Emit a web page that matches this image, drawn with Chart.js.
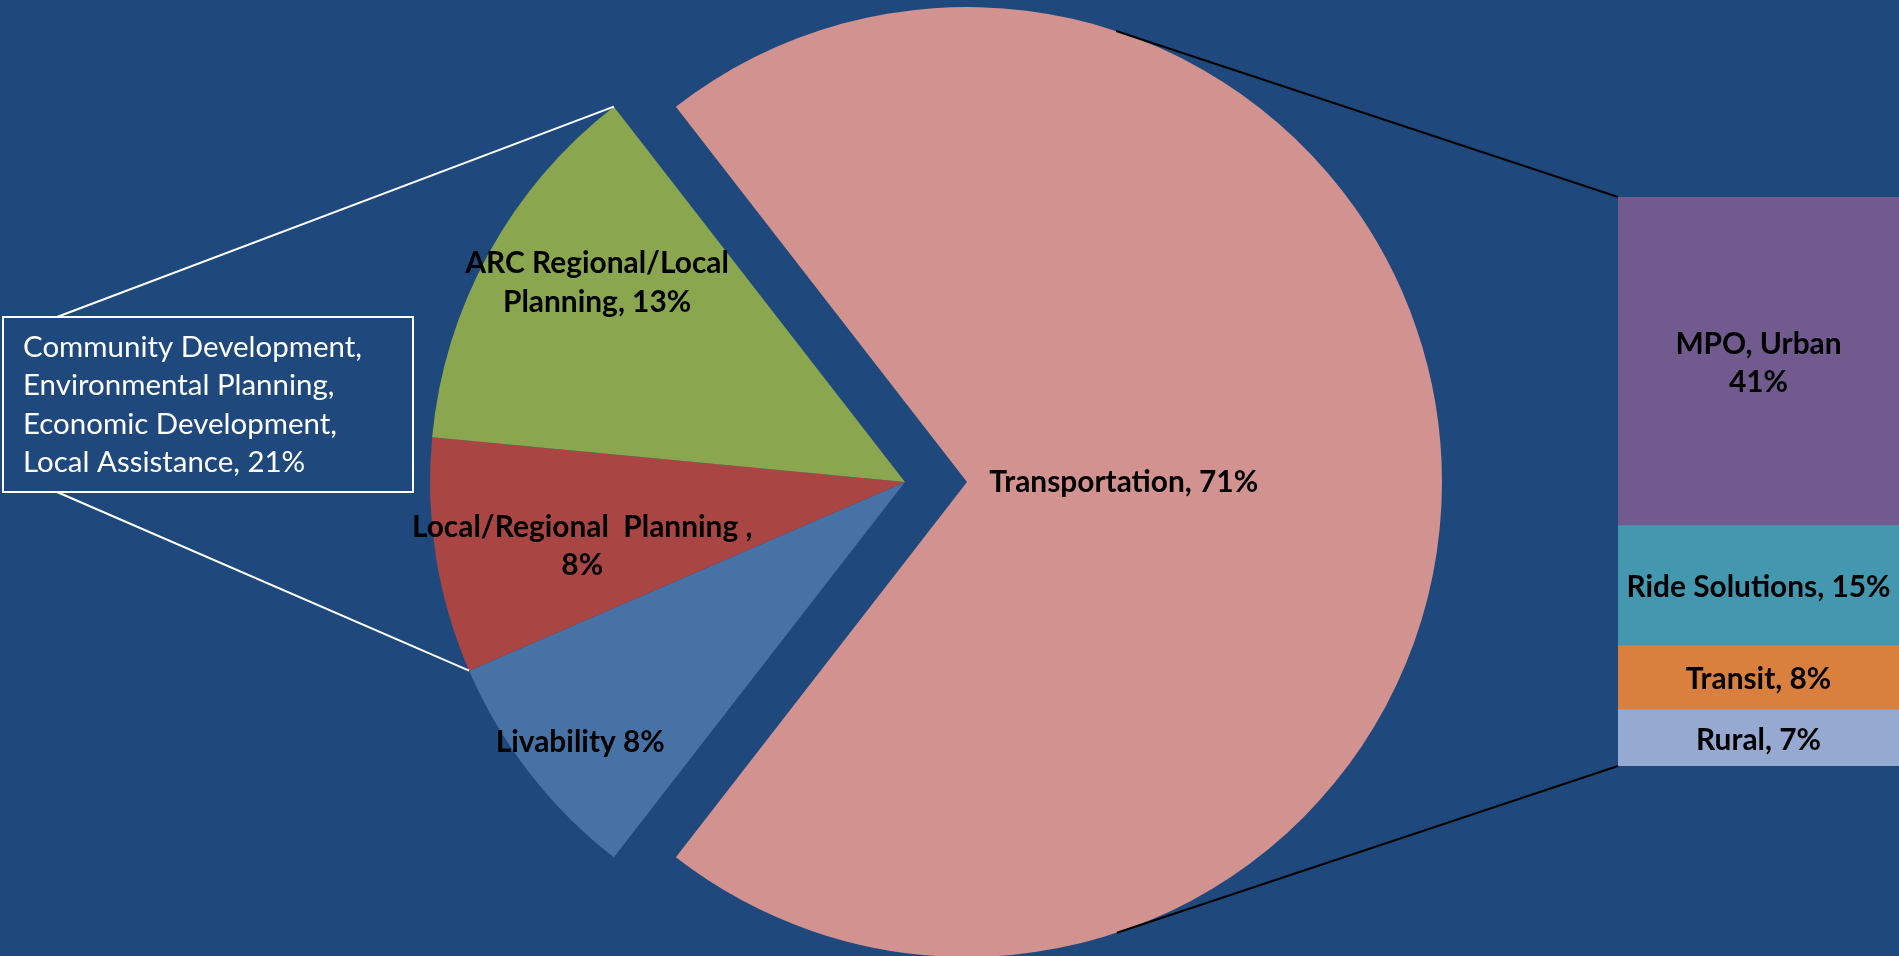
<!DOCTYPE html>
<html>
<head>
<meta charset="utf-8">
<script src="https://cdn.jsdelivr.net/npm/chart.js@4.4.0/dist/chart.umd.min.js"></script>
<style>
    html, body { margin: 0; padding: 0; background: #1F497D; overflow: hidden; }
    canvas { position: absolute; }
</style>
</head>
<body>
<canvas id="pieBack" width="1899" height="956" style="left:0;top:0"></canvas>
<canvas id="pieFront" width="1899" height="956" style="left:0;top:0"></canvas>
<canvas id="barChart" width="281" height="569" style="left:1618px;top:197px"></canvas>
<script>
// pie slices, clockwise starting with the exploded one
const pieLabels = ["Transportation", "Livability", "Local/Regional Planning", "ARC Regional/Local Planning"];
const pieValues = [71, 8, 8, 13];
const pieText = [
    ["Transportation, 71%"],
    ["Livability 8%"],
    ["Local/Regional  Planning ,", "8%"],
    ["ARC Regional/Local", "Planning, 13%"]
];

// breakdown of Transportation, bottom to top
const barLabels = ["Rural", "Transit", "Ride Solutions", "MPO, Urban"];
const barValues = [7, 8, 15, 41];
const barText = [
    ["Rural, 7%"],
    ["Transit, 8%"],
    ["Ride Solutions, 15%"],
    ["MPO, Urban", "41%"]
];

// callout for ARC + Local/Regional slices
const groupText = ["Community Development,", "Environmental Planning,", "Economic Development,", "Local Assistance, 21%"];

const pieColors = ["#D19290", "#4672A6", "#A94644", "#8AA64F"];
const barColors = ["#95A9D1", "#DA803E", "#4397AF", "#715A8E"];

// where each pie label sits: fraction of radius, degrees off the slice middle
const labelPlace = [{ r: 0.33, a: 0 }, { r: 0.876, a: -0.9 }, { r: 0.693, a: -2.3 }, { r: 0.772, a: 4.1 }];

const FONT = "Lato, 'Noto Sans', sans-serif";
const LINE_GAP = 38.5;

function fitSize(text, weight, width) {
    const c = document.createElement("canvas").getContext("2d");
    c.font = `${weight} 100px ${FONT}`;
    return 100 * width / c.measureText(text).width;
}
const boldSize = fitSize("Transportation, 71%", "bold", 269);
const noteSize = fitSize("Community Development,", "normal", 339);

function drawLines(ctx, lines, x, y) {
    lines.forEach((t, k) => ctx.fillText(t, x, y + (k - (lines.length - 1) / 2) * LINE_GAP));
}

const sliceText = {
    id: "sliceText",
    afterDatasetsDraw(chart, args, opts) {
        const ctx = chart.ctx;
        const arcs = chart.getDatasetMeta(0).data;
        ctx.save();
        ctx.font = `bold ${boldSize}px ${FONT}`;
        ctx.fillStyle = "#000";
        ctx.textAlign = "center";
        ctx.textBaseline = "middle";
        opts.show.forEach(i => {
            const arc = arcs[i];
            const p = labelPlace[i];
            const ang = (arc.startAngle + arc.endAngle) / 2 + p.a * Math.PI / 180;
            const r = arc.outerRadius * p.r;
            drawLines(ctx, pieText[i], arc.x + Math.cos(ang) * r, arc.y + Math.sin(ang) * r);
        });
        ctx.restore();
    }
};

// stacked bar on the right
const barChart = new Chart(document.getElementById("barChart"), {
    type: "bar",
    data: {
        labels: [""],
        datasets: barLabels.map((name, i) => ({
            label: name,
            data: [barValues[i]],
            backgroundColor: barColors[i],
            borderWidth: 0,
            barPercentage: 1,
            categoryPercentage: 1
        }))
    },
    options: {
        responsive: false,
        animation: false,
        events: [],
        layout: { padding: 0 },
        scales: {
            x: { stacked: true, display: false },
            y: { stacked: true, display: false, min: 0, max: barValues.reduce((a, b) => a + b, 0) }
        },
        plugins: { legend: { display: false }, tooltip: { enabled: false } }
    },
    plugins: [{
        id: "barText",
        afterDatasetsDraw(chart) {
            const ctx = chart.ctx;
            ctx.save();
            ctx.font = `bold ${boldSize}px ${FONT}`;
            ctx.fillStyle = "#000";
            ctx.textAlign = "center";
            ctx.textBaseline = "middle";
            barText.forEach((lines, i) => {
                const el = chart.getDatasetMeta(i).data[0];
                drawLines(ctx, lines, el.x, (el.y + el.base) / 2 + 2);
            });
            ctx.restore();
        }
    }]
});

function pieOptions(padding, show) {
    return {
        responsive: false,
        animation: false,
        events: [],
        radius: 475,
        rotation: -pieValues[0] / 100 * 180 + 90,
        layout: { padding },
        plugins: { legend: { display: false }, tooltip: { enabled: false }, sliceText: { show } }
    };
}

// small slices plus the callout box
new Chart(document.getElementById("pieBack"), {
    type: "pie",
    data: {
        labels: pieLabels,
        datasets: [{
            data: pieValues,
            backgroundColor: pieColors.map((c, i) => i === 0 ? "rgba(0,0,0,0)" : c),
            borderWidth: 0
        }]
    },
    options: pieOptions({ left: 0, right: 89, top: 8, bottom: 0 }, [1, 2, 3]),
    plugins: [sliceText, {
        id: "callout",
        afterDraw(chart) {
            const ctx = chart.ctx;
            const arcs = chart.getDatasetMeta(0).data;
            const box = { x: 3, y: 317, w: 410, h: 175 };
            const top = arcs[3], low = arcs[2];
            ctx.save();
            ctx.strokeStyle = "#fff";
            ctx.lineWidth = 2;
            ctx.beginPath();
            ctx.moveTo(box.x + 54, box.y);
            ctx.lineTo(top.x + Math.cos(top.endAngle) * top.outerRadius, top.y + Math.sin(top.endAngle) * top.outerRadius);
            ctx.moveTo(box.x + 54, box.y + box.h);
            ctx.lineTo(low.x + Math.cos(low.startAngle) * low.outerRadius, low.y + Math.sin(low.startAngle) * low.outerRadius);
            ctx.stroke();
            ctx.strokeRect(box.x, box.y, box.w, box.h);
            ctx.fillStyle = "#fff";
            ctx.font = `${noteSize}px ${FONT}`;
            ctx.textAlign = "left";
            ctx.textBaseline = "alphabetic";
            groupText.forEach((t, k) => ctx.fillText(t, box.x + 20, box.y + 40 + k * 38.3));
            ctx.restore();
        }
    }]
});

// exploded Transportation slice and the lines to the bar
new Chart(document.getElementById("pieFront"), {
    type: "pie",
    data: {
        labels: pieLabels,
        datasets: [{
            data: pieValues,
            backgroundColor: pieColors.map((c, i) => i === 0 ? c : "rgba(0,0,0,0)"),
            borderWidth: 0
        }]
    },
    options: pieOptions({ left: 35, right: 0, top: 8, bottom: 0 }, [0]),
    plugins: [sliceText, {
        id: "seriesLines",
        afterDraw(chart) {
            const ctx = chart.ctx;
            const arc = chart.getDatasetMeta(0).data[0];
            const cv = barChart.canvas;
            const topEl = barChart.getDatasetMeta(barValues.length - 1).data[0];
            const lowEl = barChart.getDatasetMeta(0).data[0];
            const left = cv.offsetLeft + topEl.x - topEl.width / 2;
            const corners = [[left, cv.offsetTop + topEl.y, -1], [left, cv.offsetTop + lowEl.base, 1]];
            ctx.save();
            ctx.strokeStyle = "#000";
            ctx.lineWidth = 2;
            ctx.beginPath();
            corners.forEach(([px, py, side]) => {
                const dx = px - arc.x, dy = py - arc.y;
                const d = Math.hypot(dx, dy);
                const t = Math.atan2(dy, dx) + side * Math.acos(arc.outerRadius / d);
                ctx.moveTo(arc.x + Math.cos(t) * arc.outerRadius, arc.y + Math.sin(t) * arc.outerRadius);
                ctx.lineTo(px, py);
            });
            ctx.stroke();
            ctx.restore();
        }
    }]
});
</script>
</body>
</html>
